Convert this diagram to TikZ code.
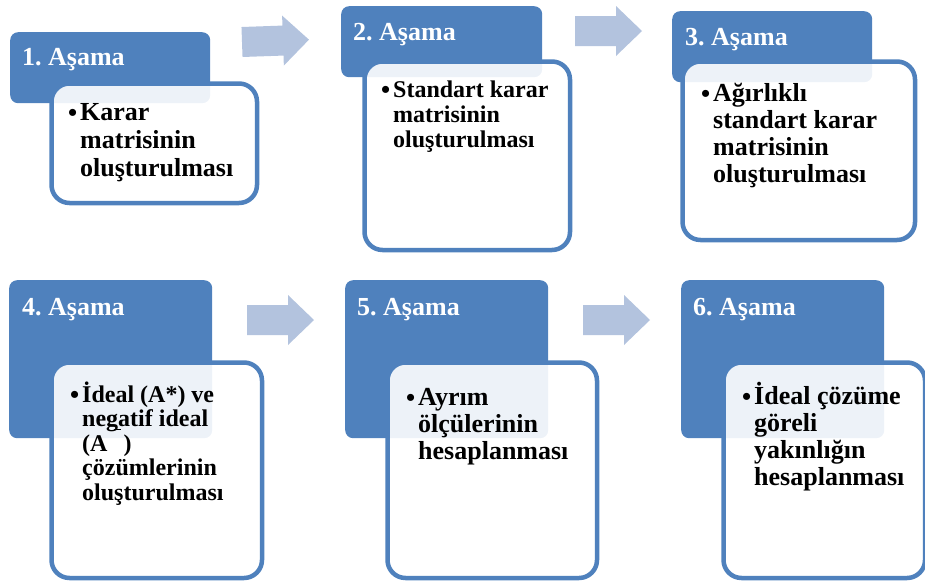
\documentclass[tikz,border=0pt]{standalone}
\usepackage{fontspec}
\setmainfont{Liberation Serif}
\frenchspacing
\definecolor{hdrblue}{HTML}{4F81BD}
\definecolor{arrowc}{HTML}{B3C3DE}
\tikzset{
 hdr/.style={fill=hdrblue, rounded corners=8pt, inner sep=0pt, anchor=north west},
 bx/.style={draw=hdrblue, line width=4.5pt, fill=white, fill opacity=0.9, rounded corners=18pt, inner sep=0pt, anchor=north west},
 hdrtext/.style={text=white, font=\fontsize{26}{28}\selectfont\bfseries, inner sep=0pt, anchor=base west},
 bodytext/.style={align=left, inner sep=0pt, anchor=base west},
 stagearrow/.style={fill=arrowc}
}
\newcommand{\bl}{\llap{\raisebox{-1pt}{\fontsize{26}{26}\selectfont\textbullet}\hspace{3pt}}}
\newcommand{\bodyfont}[2]{\fontsize{#1}{#2}\selectfont\bfseries}
\newcommand{\arrowshape}{(0,-15) -- (41,-15) -- (41,-25) -- (67,0) -- (41,25) -- (41,15) -- (0,15) -- cycle}
\begin{document}
\begin{tikzpicture}[x=1pt,y=-1pt]
\useasboundingbox (0,0) rectangle (925,581);
% arrows
\fill[stagearrow, shift={(242,42)}, rotate=2] \arrowshape;
\fill[stagearrow, shift={(575,31)}] \arrowshape;
\fill[stagearrow, shift={(247,320)}] \arrowshape;
\fill[stagearrow, shift={(583,320)}] \arrowshape;
% stage 1
\node[hdr, minimum width=200pt, minimum height=71pt] (h1) at (10,32) {};
\node[hdrtext] (ht1) at (22,65) {1. Aşama};
\node[bx, minimum width=205.5pt, minimum height=119.5pt] (b1) at (49.25,81.25) {};
\node[bodytext, font=\bodyfont{26}{28}] (t1) at (80,176) {\bl Karar\\matrisinin\\oluşturulması};
% stage 2
\node[hdr, minimum width=201pt, minimum height=71pt] (h2) at (341,6) {};
\node[hdrtext] (ht2) at (353,40) {2. Aşama};
\node[bx, minimum width=205.5pt, minimum height=188.5pt] (b2) at (362.25,59.25) {};
\node[bodytext, font=\bodyfont{24}{25}] (t2) at (393,147) {\bl Standart karar\\matrisinin\\oluşturulması};
% stage 3
\node[hdr, minimum width=200pt, minimum height=71pt] (h3) at (672,11) {};
\node[hdrtext] (ht3) at (685,45) {3. Aşama};
\node[bx, minimum width=232.5pt, minimum height=178.5pt] (b3) at (680.25,59.25) {};
\node[bodytext, font=\bodyfont{26}{26.7}] (t3) at (713,182) {\bl Ağırlıklı\\standart karar\\matrisinin\\oluşturulması};
% stage 4
\node[hdr, minimum width=203pt, minimum height=158pt] (h4) at (9,280) {};
\node[hdrtext] (ht4) at (22,315) {4. Aşama};
\node[bx, minimum width=210.5pt, minimum height=215.5pt] (b4) at (49.25,360.25) {};
\node[bodytext, font=\bodyfont{24}{24.5}] (t4) at (82,500) {\bl İdeal (A*) ve\\negatif ideal\\(A\hspace{6pt}\smash{\raisebox{21pt}{\rule{7pt}{1.3pt}}}\hspace{3pt})\\çözümlerinin\\oluşturulması};
% stage 5
\node[hdr, minimum width=203pt, minimum height=158pt] (h5) at (345,280) {};
\node[hdrtext] (ht5) at (357,315) {5. Aşama};
\node[bx, minimum width=209.5pt, minimum height=215.5pt] (b5) at (385.25,360.25) {};
\node[bodytext, font=\bodyfont{26}{27}] (t5) at (418,459) {\bl Ayrım\\ölçülerinin\\hesaplanması};
% stage 6
\node[hdr, minimum width=203pt, minimum height=158pt] (h6) at (681,280) {};
\node[hdrtext] (ht6) at (693,315) {6. Aşama};
\node[bx, minimum width=201.5pt, minimum height=215.5pt] (b6) at (721.25,360.25) {};
\node[bodytext, font=\bodyfont{26}{27}] (t6) at (754,485) {\bl İdeal çözüme\\göreli\\yakınlığın\\hesaplanması};
\end{tikzpicture}
\end{document}
